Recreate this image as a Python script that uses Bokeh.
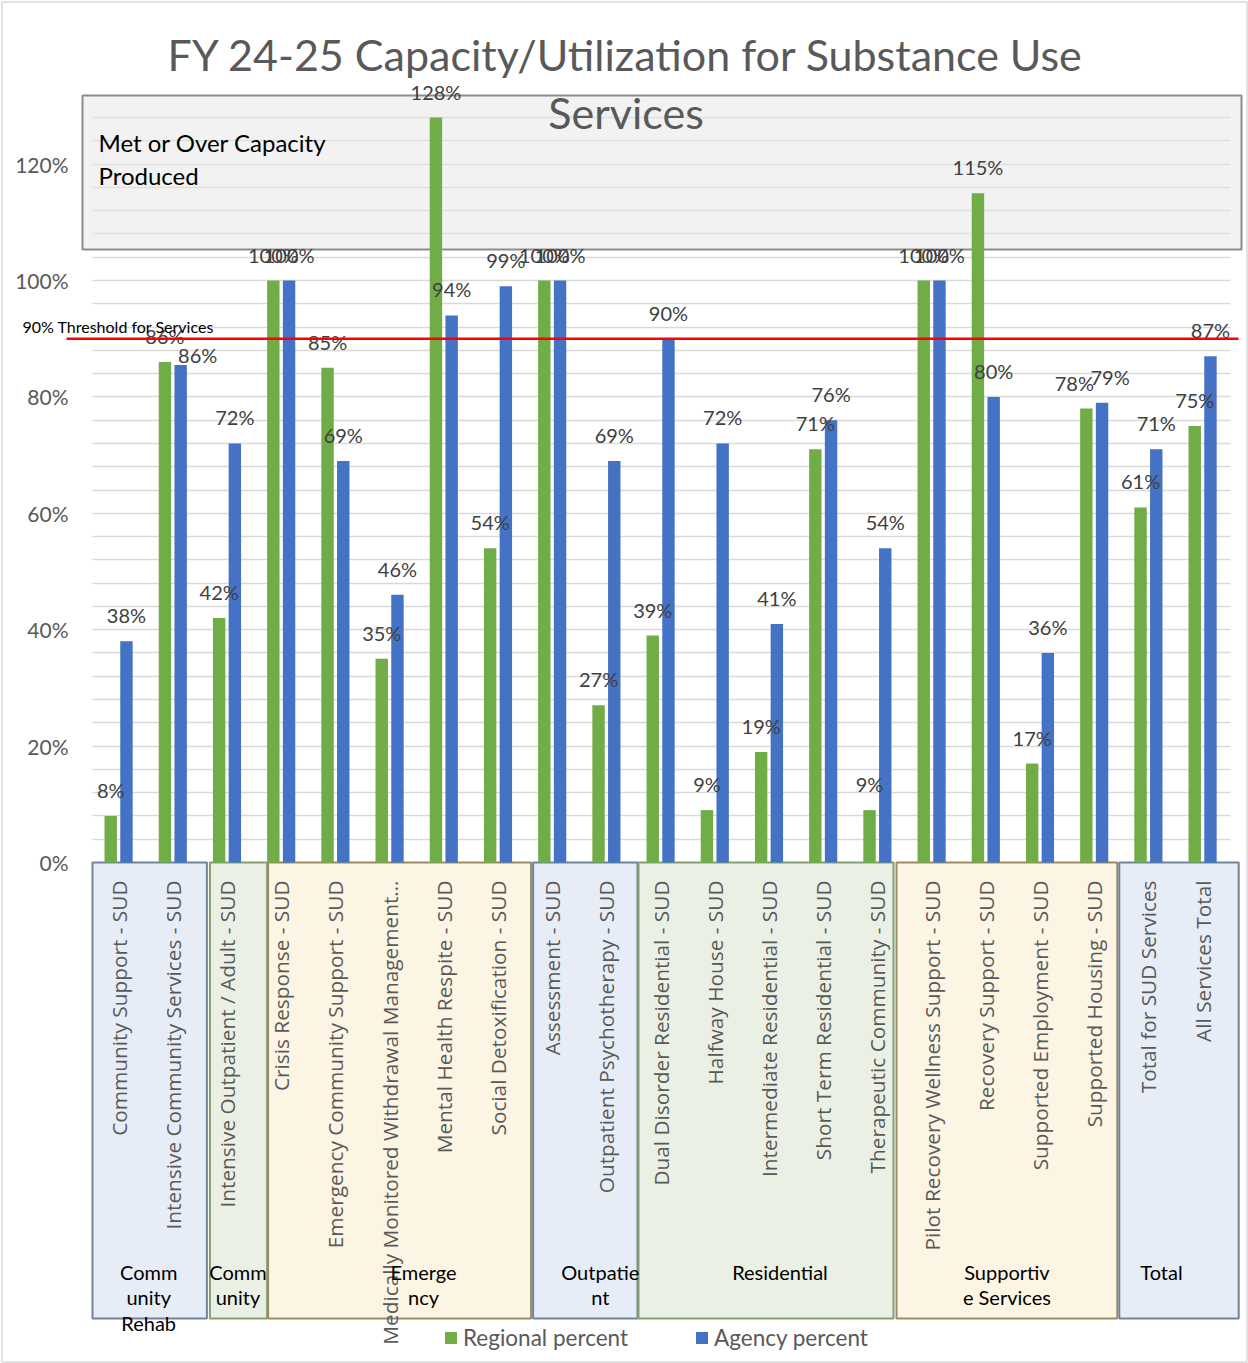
import math
from bokeh.plotting import figure
from bokeh.models import (ColumnDataSource, FixedTicker, NumeralTickFormatter,
                          Legend, LegendItem, Label, Grid)
from bokeh.transform import dodge
from bokeh.core.properties import value
from bokeh.embed import file_html
from bokeh.resources import INLINE

# ---------------- data ----------------
title_lines = ["FY 24-25 Capacity/Utilization for Substance Use", "Services"]

categories = [
    "Community Support - SUD",
    "Intensive Community Services - SUD",
    "Intensive Outpatient / Adult - SUD",
    "Crisis Response - SUD",
    "Emergency Community Support - SUD",
    "Medically Monitored Withdrawal Management\u2026",
    "Mental Health Respite - SUD",
    "Social Detoxification - SUD",
    "Assessment - SUD",
    "Outpatient Psychotherapy - SUD",
    "Dual Disorder Residential - SUD",
    "Halfway House - SUD",
    "Intermediate Residential - SUD",
    "Short Term Residential - SUD",
    "Therapeutic Community - SUD",
    "Pilot Recovery Wellness Support - SUD",
    "Recovery Support - SUD",
    "Supported Employment - SUD",
    "Supported Housing - SUD",
    "Total for SUD Services",
    "All Services Total",
]

regional = [0.08, 0.86, 0.42, 1.00, 0.85, 0.35, 1.28, 0.54, 1.00, 0.27, 0.39,
            0.09, 0.19, 0.71, 0.09, 1.00, 1.15, 0.17, 0.78, 0.61, 0.75]
agency = [0.38, 0.855, 0.72, 1.00, 0.69, 0.46, 0.94, 0.99, 1.00, 0.69, 0.90,
          0.72, 0.41, 0.76, 0.54, 1.00, 0.80, 0.36, 0.79, 0.71, 0.87]

group_labels = ["Comm\nunity\nRehab", "Comm\nunity", "Emerge\nncy", "Outpatie\nnt",
                "Residential", "Supportiv\ne Services", "Total"]
group_sizes = [2, 1, 5, 2, 5, 4, 2]

threshold = 0.90
threshold_label = "90% Threshold for Services"
callout_lines = ["Met or Over Capacity", "Produced"]
series_names = ["Regional percent", "Agency percent"]
y_ticks = [0.0, 0.2, 0.4, 0.6, 0.8, 1.0, 1.2]

# ---------------- styles / layout ----------------
W, H = 1248, 1363
PX0 = 91.0       # pixel x of the first category edge
CAT_W = 54.2     # pixel width of a category
Y0 = 862.0       # pixel y of 0%
PPU = 582.0      # pixels per 100%

GREEN = "#70AD47"
BLUE = "#4472C4"
GRAY_TXT = "#595959"
LABEL_TXT = "#404040"

group_fill = ["#e6edf7", "#eaf1e4", "#fcf5e3", "#e6edf7", "#eaf1e4", "#fcf5e3", "#e6edf7"]
group_line = ["#72849b", "#84a072", "#9a8c66", "#72849b", "#84a072", "#9a8c66", "#72849b"]
# hand-drawn group boxes: pixel nudges of their edges and labels
box_left_dx = [1, 10, 14, 8, 5, -8, -2]
box_right_dx = [7, 13, 6, 4, -11, -4, 9]
glabel_dx = [3, 11, 34, 21, 11, -6, -14]

# label nudges (pixels) for a few overlapping data labels
reg_dx = [0] * len(categories)
ag_dx = [0] * len(categories)
ag_dy = [0] * len(categories)
ag_dx[1] = 17
ag_dy[1] = 16
reg_dx[18] = -12
ag_dx[18] = 8


def px_x(px):
    return (px - PX0) / CAT_W


def px_y(py):
    return (Y0 - py) / PPU


p = figure(width=W, height=H,
           x_range=(px_x(0), px_x(W)), y_range=(px_y(H), px_y(0)),
           x_axis_type=None, output_backend="svg", toolbar_location=None,
           min_border_left=0, min_border_right=0, min_border_top=0,
           min_border_bottom=0, outline_line_color=None)
p.background_fill_color = "white"
p.border_fill_color = "white"

# y axis, drawn at the left edge of the plotting area
yax = p.yaxis[0]
yax.fixed_location = px_x(72)
yax.ticker = FixedTicker(ticks=y_ticks)
yax.formatter = NumeralTickFormatter(format="0%")
yax.axis_line_color = None
yax.major_tick_line_color = None
yax.minor_tick_line_color = None
yax.major_tick_out = 0
yax.major_tick_in = 0
yax.major_label_standoff = 4
yax.major_label_text_font = "Lato"
yax.major_label_text_font_size = "21px"
yax.major_label_text_color = GRAY_TXT

# grid every 4 %
grid = p.ygrid[0]
grid.ticker = FixedTicker(ticks=[round(0.04 * k, 2) for k in range(1, 33)])
grid.grid_line_color = "#d9d9d9"
grid.grid_line_width = 1.5
if "cross_bounds" in Grid.properties():
    try:
        grid.cross_bounds = (px_x(92), px_x(1230))
    except Exception:
        pass
for g in p.xgrid:
    g.visible = False

# outer frame of the chart
p.quad(left=[px_x(1.5)], right=[px_x(1246.5)], top=[px_y(1.5)], bottom=[px_y(1361.5)],
       fill_color=None, line_color="#d9d9d9", line_width=1.5)

n = len(categories)
src = ColumnDataSource(dict(
    x=[i + 0.5 for i in range(n)],
    cat=categories,
    regional=regional,
    agency=agency,
    rlab=[f"{round(v * 100)}%" for v in regional],
    alab=[f"{round(v * 100)}%" for v in agency],
    rdx=reg_dx, adx=ag_dx, ady=ag_dy,
))

# callout box (behind bars)
p.quad(left=[px_x(82)], right=[px_x(1241)], top=[px_y(95)], bottom=[px_y(249)],
       fill_color="#e6e6e6", fill_alpha=0.5, line_color="#8c8c8c", line_width=2)

# group boxes
starts = []
acc = 0
for s in group_sizes:
    starts.append(acc)
    acc += s
g_left = [s + dl / CAT_W for s, dl in zip(starts, box_left_dx)]
g_right = [s + sz + dr / CAT_W for s, sz, dr in zip(starts, group_sizes, box_right_dx)]
p.quad(left=g_left, right=g_right, top=[0.0] * len(group_sizes),
       bottom=[px_y(1318)] * len(group_sizes),
       fill_color=group_fill, line_color=group_line, line_width=2)

OFF = 0.145
BW = 0.229
r1 = p.vbar(x=dodge("x", -OFF), top="regional", width=BW, source=src,
            fill_color=GREEN, line_color=None)
r2 = p.vbar(x=dodge("x", OFF), top="agency", width=BW, source=src,
            fill_color=BLUE, line_color=None)

LBL = 26.0 / PPU
p.text(x=dodge("x", -OFF), y=dodge("regional", LBL), text="rlab", source=src,
       x_offset="rdx", text_align="center", text_baseline="middle",
       text_font=value("Lato"), text_font_size="20px", text_color=LABEL_TXT)
p.text(x=dodge("x", OFF), y=dodge("agency", LBL), text="alab", source=src,
       x_offset="adx", y_offset="ady", text_align="center", text_baseline="middle",
       text_font=value("Lato"), text_font_size="20px", text_color=LABEL_TXT)

# threshold line
p.segment(x0=[px_x(66)], x1=[px_x(1238)], y0=[threshold], y1=[threshold],
          line_color="#ff0000", line_width=2.5)
p.add_layout(Label(x=px_x(22), y=threshold + 12.0 / PPU, text=threshold_label,
                   text_baseline="middle", text_align="left",
                   text_font="Lato", text_font_size="16px", text_color="#000000"))

# category labels
p.text(x="x", y=px_y(880), text="cat", source=src, angle=math.pi / 2,
       text_align="right", text_baseline="middle",
       text_font=value("Open Sans"), text_font_size="20.8px", text_color=GRAY_TXT)

# group labels
g_center = [s + sz / 2.0 + d / CAT_W for s, sz, d in zip(starts, group_sizes, glabel_dx)]
p.text(x=g_center, y=[px_y(1259)] * len(group_labels), text=group_labels,
       text_align="center", text_baseline="top", text_line_height=1.08,
       text_font=value("Lato"), text_font_size="20px", text_color="#000000")

# title
p.text(x=[px_x(625.5)] * 2, y=[px_y(54), px_y(112)], text=title_lines,
       text_align="center", text_baseline="middle",
       text_font=value("Lato"), text_font_size="43px", text_color=GRAY_TXT)

# callout text
p.text(x=[px_x(98)] * 2, y=[px_y(142), px_y(175)], text=callout_lines,
       text_align="left", text_baseline="middle",
       text_font=value("Lato"), text_font_size="24px", text_color="#000000")

legend = Legend(items=[LegendItem(label=series_names[0], renderers=[r1]),
                       LegendItem(label=series_names[1], renderers=[r2])],
                orientation="horizontal", location=(443, 12),
                border_line_color=None, background_fill_alpha=0,
                label_text_font="Lato", label_text_font_size="22.5px",
                label_text_color=GRAY_TXT, glyph_width=15, glyph_height=15,
                label_standoff=5, spacing=66, padding=0, margin=0)
p.add_layout(legend)

open("out.html", "w").write(file_html(p, INLINE))
